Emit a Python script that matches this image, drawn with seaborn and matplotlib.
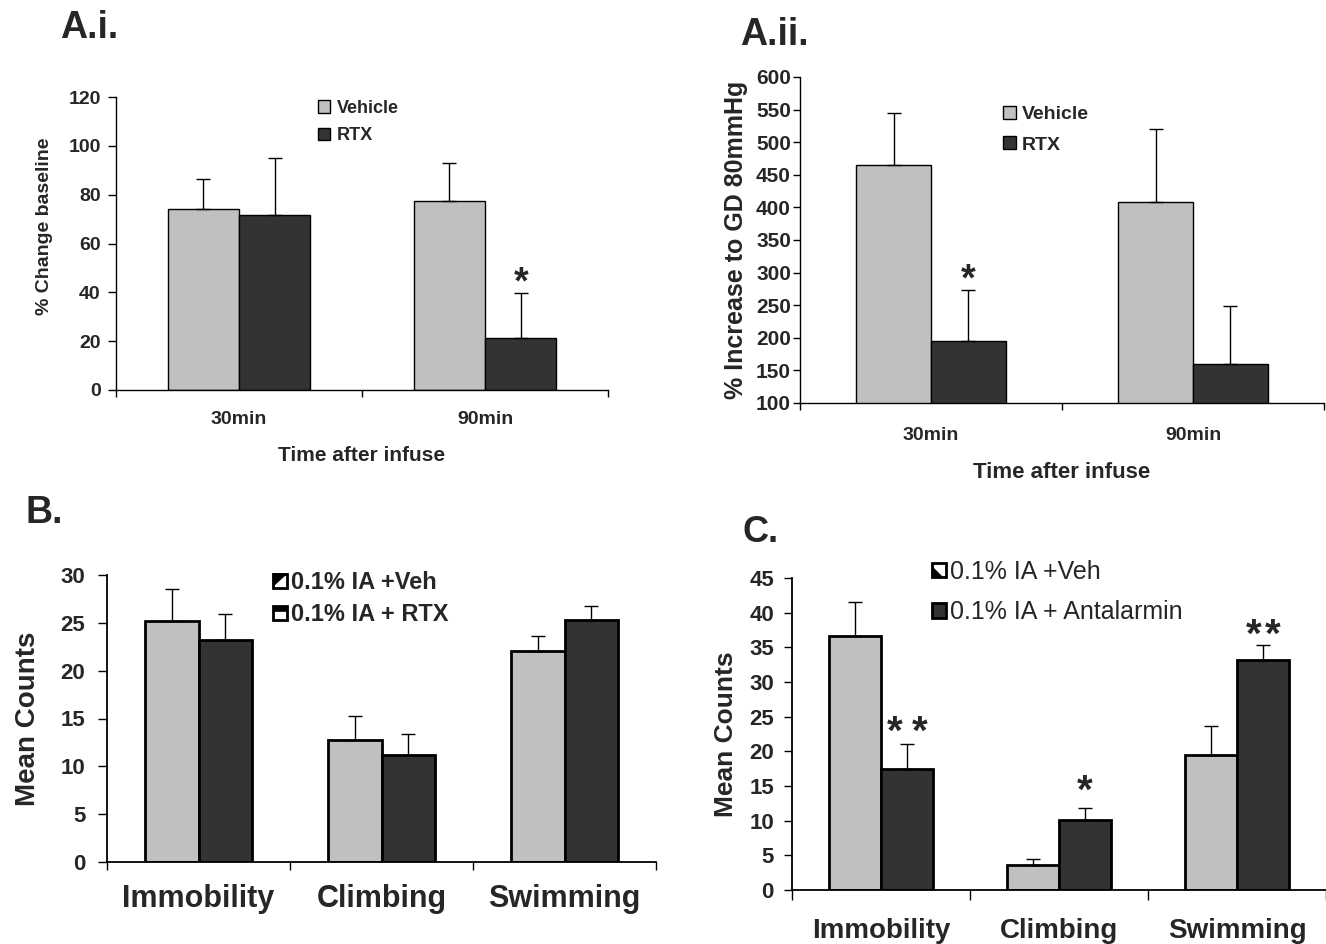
import numpy as np
import pandas as pd
import matplotlib
matplotlib.use("Agg")
import matplotlib.pyplot as plt
import seaborn as sns
from matplotlib.patches import Rectangle, Polygon, Patch
from matplotlib.legend_handler import HandlerBase

# ---------------- data ----------------
time_points = ["30min", "90min"]
ai_groups = ["Vehicle", "RTX"]
ai_vehicle = [74.0, 77.3]
ai_vehicle_err = [12.3, 15.5]
ai_rtx = [71.5, 21.5]
ai_rtx_err = [23.6, 18.2]

aii_groups = ["Vehicle", "RTX"]
aii_vehicle = [465, 408]
aii_vehicle_err = [80, 113]
aii_rtx = [195, 160]
aii_rtx_err = [79, 89]

behaviors = ["Immobility", "Climbing", "Swimming"]
b_groups = ["0.1% IA +Veh", "0.1% IA + RTX"]
b_veh = [25.2, 12.8, 22.1]
b_veh_err = [3.3, 2.5, 1.5]
b_rtx = [23.2, 11.2, 25.3]
b_rtx_err = [2.7, 2.2, 1.5]

c_groups = ["0.1% IA +Veh", "0.1% IA + Antalarmin"]
c_veh = [36.6, 3.6, 19.5]
c_veh_err = [4.9, 0.8, 4.2]
c_ant = [17.4, 10.1, 33.2]
c_ant_err = [3.7, 1.7, 2.1]

LIGHT = "#c0c0c0"
DARK = "#333333"

sns.set_theme(style="white")
plt.rcParams["font.family"] = ["Liberation Sans", "DejaVu Sans"]

W, H = 1326, 944
fig = plt.figure(figsize=(W / 100, H / 100), dpi=100)


def axes_px(l, t, r, b):
    return fig.add_axes([l / W, 1 - b / H, (r - l) / W, (b - t) / H])


def make_df(cats, groups, v1, v2):
    return pd.DataFrame({
        "cat": list(cats) * 2,
        "group": [groups[0]] * len(cats) + [groups[1]] * len(cats),
        "value": list(v1) + list(v2),
    })


def panel(ax, cats, groups, v1, e1, v2, e2, width, edge_lw, ylim, yticks,
          tick_fs, cat_fs, cat_pad, ylen, ypad, xlen, spine_lw=1.0):
    df = make_df(cats, groups, v1, v2)
    sns.barplot(data=df, x="cat", y="value", hue="group", order=cats,
                hue_order=groups, palette=[LIGHT, DARK], width=width,
                edgecolor="black", linewidth=edge_lw, errorbar=None,
                legend=False, saturation=1, ax=ax)
    for cont, errs in zip(ax.containers, [e1, e2]):
        for bar, e in zip(cont, errs):
            x = bar.get_x() + bar.get_width() / 2
            h = bar.get_height()
            ax.errorbar(x, h, yerr=[[0], [e]], fmt="none", ecolor="black",
                        elinewidth=1.0, capsize=5, capthick=1.0, zorder=1)
    n = len(cats)
    ax.set_xlim(-0.5, n - 0.5)
    ax.set_ylim(*ylim)
    ax.set_yticks(yticks)
    ax.set_xticks(range(n))
    ax.set_xticklabels(cats, fontsize=cat_fs, fontweight="bold")
    ax.set_xticks(np.arange(-0.5, n, 1.0), minor=True)
    ax.tick_params(axis="x", which="major", length=0, pad=cat_pad)
    ax.tick_params(axis="x", which="minor", length=xlen, width=1, direction="out",
                   color="black", bottom=True)
    ax.tick_params(axis="y", length=ylen, width=1, direction="out", color="black",
                   left=True, pad=ypad)
    for lab in ax.get_yticklabels():
        lab.set_fontsize(tick_fs)
        lab.set_fontweight("bold")
    for s in ["top", "right"]:
        ax.spines[s].set_visible(False)
    for s in ["left", "bottom"]:
        ax.spines[s].set_color("black")
        ax.spines[s].set_linewidth(spine_lw)
    ax.set_xlabel("")
    ax.set_ylabel("")
    ax.set_facecolor("white")


def stars(ax, ci, gi, v, e, fs, off, xoffs):
    bar = ax.containers[gi][ci]
    x = bar.get_x() + bar.get_width() / 2
    for dx in xoffs:
        ax.annotate("*", xy=(x, v + e), xytext=(dx, off), textcoords="offset points",
                    ha="center", va="baseline", fontsize=fs, fontweight="bold")


class IconHandler(HandlerBase):
    def __init__(self, style):
        super().__init__()
        self.style = style

    def create_artists(self, legend, orig_handle, xdescent, ydescent, width,
                       height, fontsize, trans):
        s = min(width, height)
        x0 = -xdescent
        y0 = -ydescent + (height - s) / 2
        arts = []
        fc = DARK if self.style == "dark" else "white"
        arts.append(Rectangle((x0, y0), s, s, facecolor=fc, edgecolor="black",
                              lw=2, transform=trans))
        if self.style == "diag_ul":
            arts.append(Polygon([(x0, y0 + s), (x0 + s, y0 + s), (x0, y0 + 0.1 * s)],
                                closed=True, facecolor="black", edgecolor="black",
                                lw=0.5, transform=trans))
        elif self.style == "topbar":
            arts.append(Rectangle((x0, y0 + 0.6 * s), s, 0.4 * s, facecolor="black",
                                  edgecolor="black", lw=0.5, transform=trans))
        elif self.style == "diag_ll":
            arts.append(Polygon([(x0, y0), (x0 + 0.75 * s, y0), (x0, y0 + 0.75 * s)],
                                closed=True, facecolor="black", edgecolor="black",
                                lw=0.5, transform=trans))
        return arts


# ---------------- A.i ----------------
ax1 = axes_px(116, 97, 608, 390)
panel(ax1, time_points, ai_groups, ai_vehicle, ai_vehicle_err, ai_rtx, ai_rtx_err,
      0.58, 1.0, (0, 120), range(0, 121, 20), 14, 14, 15, 6, 5, 5)
ax1.set_ylabel("% Change baseline", fontsize=14, fontweight="bold")
ax1.yaxis.set_label_coords(-0.128, 0.56)
ax1.set_xlabel("Time after infuse", fontsize=15, fontweight="bold", labelpad=13)
stars(ax1, 1, 1, ai_rtx[1], ai_rtx_err[1], 27, 0, [0])
h1 = [Patch(facecolor=LIGHT, edgecolor="black", lw=1),
      Patch(facecolor=DARK, edgecolor="black", lw=1)]
ax1.legend(h1, ai_groups, loc="upper left", bbox_to_anchor=(318 / W, 1 - 100 / H),
           bbox_transform=fig.transFigure, frameon=False, borderpad=0,
           borderaxespad=0, handlelength=0.68, handleheight=0.68,
           handletextpad=0.34, labelspacing=0.58,
           prop={"size": 13, "weight": "bold"})

# ---------------- A.ii ----------------
ax2 = axes_px(800, 77, 1324, 403)
panel(ax2, time_points, aii_groups, aii_vehicle, aii_vehicle_err, aii_rtx, aii_rtx_err,
      0.57, 1.0, (100, 600), range(100, 601, 50), 15, 14, 17, 5, 1.5, 5)
ax2.set_ylabel("% Increase to GD 80mmHg", fontsize=18, fontweight="bold", labelpad=6)
ax2.set_xlabel("Time after infuse", fontsize=16, fontweight="bold", labelpad=13)
stars(ax2, 0, 1, aii_rtx[0], aii_rtx_err[0], 27, -1, [0])
h2 = [Patch(facecolor=LIGHT, edgecolor="black", lw=1),
      Patch(facecolor=DARK, edgecolor="black", lw=1)]
ax2.legend(h2, aii_groups, loc="upper left", bbox_to_anchor=(1003 / W, 1 - 106 / H),
           bbox_transform=fig.transFigure, frameon=False, borderpad=0,
           borderaxespad=0, handlelength=0.68, handleheight=0.68,
           handletextpad=0.3, labelspacing=0.65,
           prop={"size": 14, "weight": "bold"})

# ---------------- B ----------------
ax3 = axes_px(107, 575, 656, 862)
panel(ax3, behaviors, b_groups, b_veh, b_veh_err, b_rtx, b_rtx_err,
      0.59, 2.0, (0, 30), range(0, 31, 5), 16, 22, 16, 6.5, 9, 6, spine_lw=1.3)
ax3.set_ylabel("Mean Counts", fontsize=20, fontweight="bold", labelpad=14)
hb = [Patch(), Patch()]
ax3.legend(hb, b_groups, loc="upper left", bbox_to_anchor=(273 / W, 1 - 571 / H),
           bbox_transform=fig.transFigure, frameon=False, borderpad=0,
           borderaxespad=0, handlelength=0.6, handleheight=0.6,
           handletextpad=0.15, labelspacing=0.38,
           handler_map={hb[0]: IconHandler("diag_ul"), hb[1]: IconHandler("topbar")},
           prop={"size": 17, "weight": "bold"})

# ---------------- C ----------------
ax4 = axes_px(792, 578, 1326, 890)
panel(ax4, behaviors, c_groups, c_veh, c_veh_err, c_ant, c_ant_err,
      0.585, 2.0, (0, 45), range(0, 46, 5), 16, 20, 20, 6, 7, 7, spine_lw=1.3)
ax4.set_ylabel("Mean Counts", fontsize=19, fontweight="bold", labelpad=8)
stars(ax4, 0, 1, c_ant[0], c_ant_err[0], 29, 0, [-9, 9])
stars(ax4, 1, 1, c_ant[1], c_ant_err[1], 29, 4, [0])
stars(ax4, 2, 1, c_ant[2], c_ant_err[2], 29, -1, [-7, 7])
hc = [Patch(), Patch()]
ax4.legend(hc, c_groups, loc="upper left", bbox_to_anchor=(932 / W, 1 - 560 / H),
           bbox_transform=fig.transFigure, frameon=False, borderpad=0,
           borderaxespad=0, handlelength=0.58, handleheight=0.58,
           handletextpad=0.16, labelspacing=0.65,
           handler_map={hc[0]: IconHandler("diag_ll"), hc[1]: IconHandler("dark")},
           prop={"size": 18})

# ---------------- panel titles ----------------
fig.text(60 / W, 1 - 38 / H, "A.i.", fontsize=27, fontweight="bold", va="baseline")
fig.text(740 / W, 1 - 45 / H, "A.ii.", fontsize=27, fontweight="bold", va="baseline")
fig.text(25 / W, 1 - 523 / H, "B.", fontsize=27, fontweight="bold", va="baseline")
fig.text(742 / W, 1 - 542 / H, "C.", fontsize=26, fontweight="bold", va="baseline")

fig.savefig("out.png", dpi=100, facecolor="white")
